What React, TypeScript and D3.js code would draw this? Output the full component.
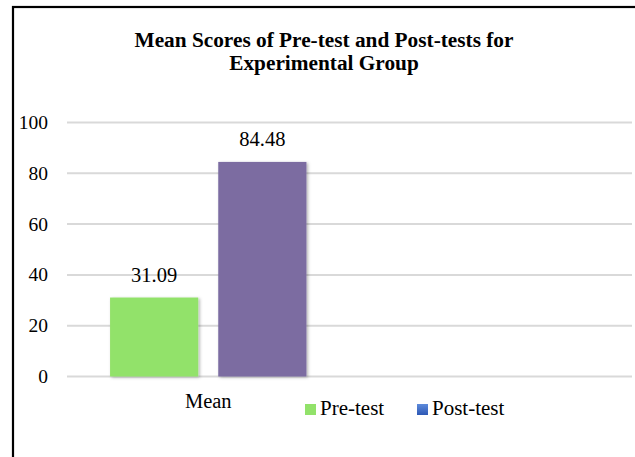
import { useEffect, useRef } from 'react'
import * as d3 from 'd3'

const categories = ['Mean', '']
const seriesNames = ['Pre-test', 'Post-test']
const preTest = [31.09, null]
const postTest = [84.48, null]
const yTicks = [0, 20, 40, 60, 80, 100]
const titleLines = ['Mean Scores of Pre-test and Post-tests for', 'Experimental Group']

export default function App() {
  const ref = useRef<SVGSVGElement>(null)

  useEffect(() => {
    const width = 635
    const height = 457
    const font = 'Times New Roman, Liberation Serif, Times, serif'

    const svg = d3.select(ref.current)
    svg.selectAll('*').remove()

    const defs = svg.append('defs')
    const shadow = defs.append('filter').attr('id', 'barShadow')
      .attr('x', '-20%').attr('y', '-20%').attr('width', '140%').attr('height', '140%')
    shadow.append('feDropShadow')
      .attr('dx', 1.5).attr('dy', 1).attr('stdDeviation', 1.6)
      .attr('flood-color', '#000').attr('flood-opacity', 0.3)

    const grad = defs.append('linearGradient').attr('id', 'postLegend')
      .attr('x1', 0).attr('y1', 0).attr('x2', 0).attr('y2', 1)
    grad.append('stop').attr('offset', '0%').attr('stop-color', '#5E8BDB')
    grad.append('stop').attr('offset', '100%').attr('stop-color', '#2D58B5')

    svg.append('rect')
      .attr('width', width).attr('height', height).attr('fill', '#fff')

    // outer chart border (runs off the picture on the right and bottom)
    svg.append('rect')
      .attr('x', 13).attr('y', 7)
      .attr('width', 700).attr('height', 600)
      .attr('fill', 'none').attr('stroke', '#000').attr('stroke-width', 2.2)

    // title
    const title = svg.append('text')
      .attr('text-anchor', 'middle')
      .attr('font-family', font)
      .attr('font-weight', 'bold')
      .attr('font-size', 21.3)
      .attr('fill', '#000')
    titleLines.forEach((line, i) => {
      title.append('tspan').attr('x', 324).attr('y', 47 + i * 23).text(line)
    })

    const x = d3.scaleBand().domain(categories).range([67, 632])
    const xs = d3.scaleBand().domain(seriesNames)
      .range([0, x.bandwidth()])
      .paddingInner(0.185).paddingOuter(0.398)
    const y = d3.scaleLinear().domain([0, 100]).range([376.5, 122.5])

    // gridlines
    svg.append('g').selectAll('line')
      .data(yTicks)
      .join('line')
      .attr('x1', 67).attr('x2', 632)
      .attr('y1', d => y(d)).attr('y2', d => y(d))
      .attr('stroke', '#d9d9d9').attr('stroke-width', 2)

    // y tick labels
    svg.append('g').selectAll('text')
      .data(yTicks)
      .join('text')
      .attr('x', 48).attr('y', d => y(d))
      .attr('dy', '0.33em')
      .attr('text-anchor', 'end')
      .attr('font-family', font)
      .attr('font-size', 19.5)
      .attr('fill', '#000')
      .text(d => d)

    const series = [
      { name: seriesNames[0], values: preTest, color: '#92E26A' },
      { name: seriesNames[1], values: postTest, color: '#7B6CA1' },
    ]

    series.forEach(s => {
      const pts = categories
        .map((c, i) => ({ c, v: s.values[i] }))
        .filter(p => p.v != null) as { c: string, v: number }[]
      svg.append('g').selectAll('rect')
        .data(pts)
        .join('rect')
        .attr('x', d => (x(d.c) ?? 0) + (xs(s.name) ?? 0))
        .attr('y', d => y(d.v))
        .attr('width', xs.bandwidth())
        .attr('height', d => y(0) - y(d.v))
        .attr('fill', s.color)
        .attr('filter', 'url(#barShadow)')
      svg.append('g').selectAll('text')
        .data(pts)
        .join('text')
        .attr('x', d => (x(d.c) ?? 0) + (xs(s.name) ?? 0) + xs.bandwidth() / 2)
        .attr('y', d => y(d.v) - 16)
        .attr('text-anchor', 'middle')
        .attr('font-family', font)
        .attr('font-size', 20.5)
        .attr('fill', '#000')
        .text(d => d.v.toFixed(2))
    })

    // category labels
    svg.append('g').selectAll('text')
      .data(categories)
      .join('text')
      .attr('x', d => (x(d) ?? 0) + x.bandwidth() / 2)
      .attr('y', 408)
      .attr('text-anchor', 'middle')
      .attr('font-family', font)
      .attr('font-size', 20.5)
      .attr('fill', '#000')
      .text(d => d)

    // legend
    const legendX = [305, 417]
    const legend = svg.append('g')
    seriesNames.forEach((name, i) => {
      legend.append('rect')
        .attr('x', legendX[i]).attr('y', 404)
        .attr('width', 11).attr('height', 11)
        .attr('fill', i === 0 ? series[0].color : 'url(#postLegend)')
      legend.append('text')
        .attr('x', legendX[i] + 15).attr('y', 415)
        .attr('font-family', font)
        .attr('font-size', 21)
        .attr('fill', '#000')
        .text(name)
    })
  }, [])

  return (
    <div style={{ position: 'absolute', left: 0, top: 0 }}>
      <svg ref={ref} width={635} height={457} style={{ display: 'block' }} />
    </div>
  )
}
